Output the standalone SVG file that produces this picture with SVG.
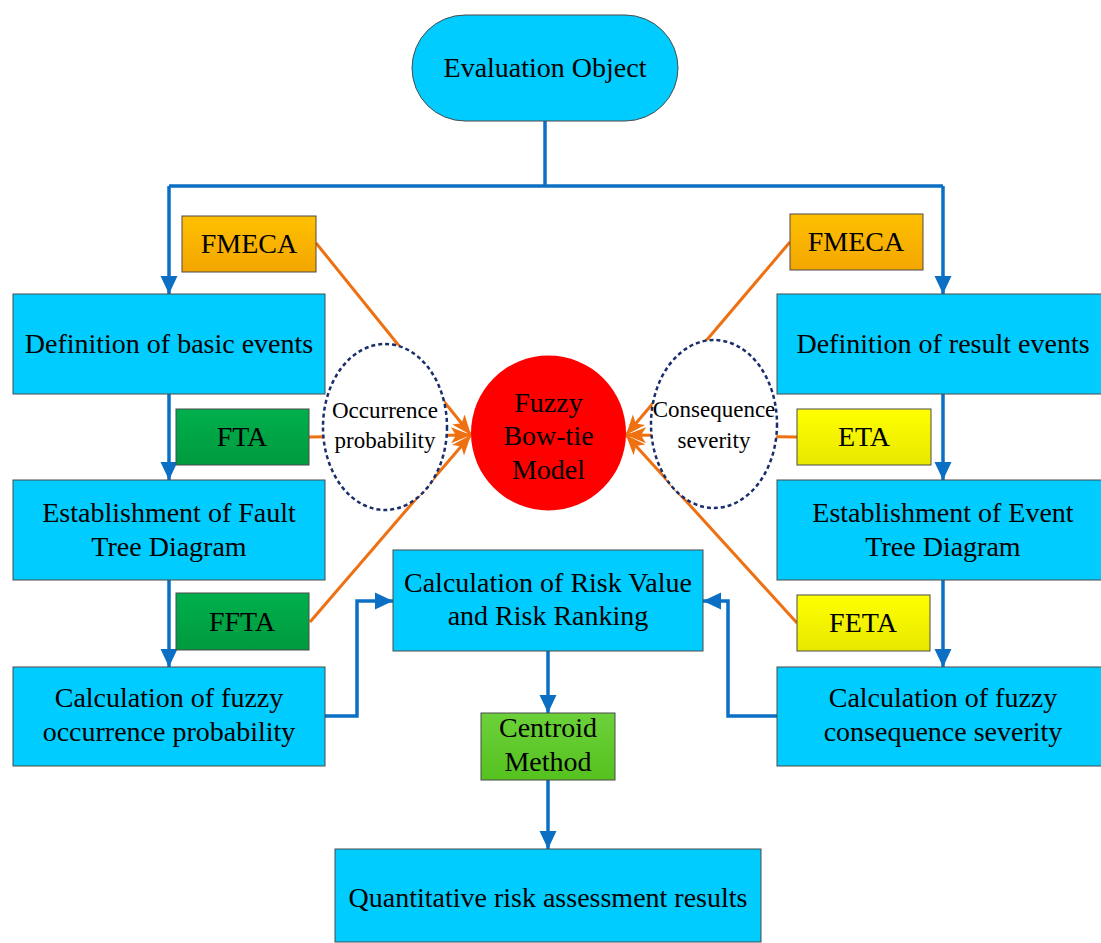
<svg xmlns="http://www.w3.org/2000/svg" width="1101" height="943" viewBox="0 0 1101 943">
  <defs>
    <marker id="arrowBlue" markerUnits="userSpaceOnUse" markerWidth="18" markerHeight="18" viewBox="0 0 18 18" refX="18" refY="9" orient="auto">
      <path d="M0,0.5 L18,9 L0,17.5 Z" fill="#0B6FC4"/>
    </marker>
    <marker id="arrowOrange" markerUnits="userSpaceOnUse" markerWidth="20" markerHeight="18" viewBox="0 0 20 18" refX="20" refY="9" orient="auto">
      <path d="M0,1 L20,9 L0,17 L5,9 Z" fill="#EE7010"/>
    </marker>
    <linearGradient id="gOrange" x1="0" y1="0" x2="0" y2="1">
      <stop offset="0" stop-color="#FFC000"/>
      <stop offset="1" stop-color="#F3A600"/>
    </linearGradient>
    <linearGradient id="gGreen" x1="0" y1="0" x2="0" y2="1">
      <stop offset="0" stop-color="#00B04C"/>
      <stop offset="1" stop-color="#009A3E"/>
    </linearGradient>
    <linearGradient id="gYellow" x1="0" y1="0" x2="0" y2="1">
      <stop offset="0" stop-color="#FFFF00"/>
      <stop offset="1" stop-color="#E8E800"/>
    </linearGradient>
    <linearGradient id="gLime" x1="0" y1="0" x2="0" y2="1">
      <stop offset="0" stop-color="#6CD13A"/>
      <stop offset="1" stop-color="#55C21F"/>
    </linearGradient>
  </defs>
  <style>
    text { font-family: "Liberation Serif", "Times New Roman", serif; fill: #000; text-anchor: middle; }
    .big { font-size: 28px; }
    .small { font-size: 23px; }
    .box { fill: #00CCFF; stroke: #4A4A4A; stroke-width: 1; }
    .flow { fill: none; stroke: #0B6FC4; stroke-width: 3.5; }
    .feed { fill: none; stroke: #EE7010; stroke-width: 3; }
    .tag { stroke: #4A4A4A; stroke-width: 1; }
    .oval { fill: #FFFFFF; stroke: #1A2E6B; stroke-width: 2.5; stroke-dasharray: 4 3; }
  </style>

  <rect width="1101" height="943" fill="#FFFFFF"/>

  <!-- blue flow connectors and orange method feeds -->
  <g id="connectors">
    <path class="flow" d="M545,121 V186"/>
    <path class="flow" d="M169,186 H943"/>
    <path class="flow" d="M169,186 V294" marker-end="url(#arrowBlue)"/>
    <path class="flow" d="M943,186 V294" marker-end="url(#arrowBlue)"/>
    <path class="flow" d="M169,394 V480" marker-end="url(#arrowBlue)"/>
    <path class="flow" d="M943,394 V480" marker-end="url(#arrowBlue)"/>
    <path class="flow" d="M169,580 V667" marker-end="url(#arrowBlue)"/>
    <path class="flow" d="M943,580 V667" marker-end="url(#arrowBlue)"/>
    <path class="flow" d="M325,716 H357 V601 H393" marker-end="url(#arrowBlue)"/>
    <path class="flow" d="M777,716 H728 V601 H703" marker-end="url(#arrowBlue)"/>
    <path class="flow" d="M548,651 V713" marker-end="url(#arrowBlue)"/>
    <path class="flow" d="M548,780 V849" marker-end="url(#arrowBlue)"/>

    <path class="feed" d="M316,243 L471,435" marker-end="url(#arrowOrange)"/>
    <path class="feed" d="M309,437 L471,435" marker-end="url(#arrowOrange)"/>
    <path class="feed" d="M310,622 L471,435" marker-end="url(#arrowOrange)"/>
    <path class="feed" d="M790,242 L626,435" marker-end="url(#arrowOrange)"/>
    <path class="feed" d="M797,437 L626,435" marker-end="url(#arrowOrange)"/>
    <path class="feed" d="M797,623 L626,435" marker-end="url(#arrowOrange)"/>
  </g>

  <g id="evaluation-object">
    <rect x="412" y="15" width="266" height="106" rx="53" ry="53" class="box"/>
    <text class="big" x="545" y="77">Evaluation Object</text>
  </g>

  <g id="fmeca-left">
    <rect x="182" y="216" width="134" height="56" fill="url(#gOrange)" class="tag"/>
    <text class="big" x="249" y="253">FMECA</text>
  </g>
  <g id="fmeca-right">
    <rect x="790" y="214" width="133" height="56" fill="url(#gOrange)" class="tag"/>
    <text class="big" x="856" y="251">FMECA</text>
  </g>

  <g id="basic-events">
    <rect x="13" y="294" width="312" height="100" class="box"/>
    <text class="big" x="169" y="353">Definition of basic events</text>
  </g>
  <g id="result-events">
    <rect x="777" y="294" width="330" height="100" class="box"/>
    <text class="big" x="943" y="353">Definition of result events</text>
  </g>

  <g id="fta">
    <rect x="176" y="409" width="133" height="56" fill="url(#gGreen)" class="tag"/>
    <text class="big" x="242" y="446">FTA</text>
  </g>
  <g id="eta">
    <rect x="797" y="409" width="134" height="56" fill="url(#gYellow)" class="tag"/>
    <text class="big" x="864" y="446">ETA</text>
  </g>

  <g id="occurrence-probability">
    <ellipse cx="385" cy="427" rx="62" ry="83" class="oval"/>
    <text class="small" x="385" y="418">Occurrence</text>
    <text class="small" x="385" y="448">probability</text>
  </g>
  <g id="consequence-severity">
    <ellipse cx="714" cy="424" rx="63" ry="84" class="oval"/>
    <text class="small" x="714" y="417">Consequence</text>
    <text class="small" x="714" y="448">severity</text>
  </g>

  <g id="bow-tie-model">
    <circle cx="548.5" cy="433" r="77.5" fill="#FF0000"/>
    <text class="big" x="548.5" y="412">Fuzzy</text>
    <text class="big" x="548.5" y="445">Bow-tie</text>
    <text class="big" x="548.5" y="479">Model</text>
  </g>

  <g id="fault-tree">
    <rect x="13" y="480" width="312" height="100" class="box"/>
    <text class="big" x="169" y="522">Establishment of Fault</text>
    <text class="big" x="169" y="556">Tree Diagram</text>
  </g>
  <g id="event-tree">
    <rect x="777" y="480" width="330" height="100" class="box"/>
    <text class="big" x="943" y="522">Establishment of Event</text>
    <text class="big" x="943" y="556">Tree Diagram</text>
  </g>

  <g id="ffta">
    <rect x="176" y="593" width="133" height="57" fill="url(#gGreen)" class="tag"/>
    <text class="big" x="242" y="631">FFTA</text>
  </g>
  <g id="feta">
    <rect x="797" y="595" width="133" height="56" fill="url(#gYellow)" class="tag"/>
    <text class="big" x="863" y="632">FETA</text>
  </g>

  <g id="risk-value">
    <rect x="393" y="550" width="310" height="101" class="box"/>
    <text class="big" x="548" y="592">Calculation of Risk Value</text>
    <text class="big" x="548" y="625">and Risk Ranking</text>
  </g>

  <g id="fuzzy-occurrence">
    <rect x="13" y="667" width="312" height="99" class="box"/>
    <text class="big" x="169" y="707">Calculation of fuzzy</text>
    <text class="big" x="169" y="741">occurrence probability</text>
  </g>
  <g id="fuzzy-consequence">
    <rect x="777" y="667" width="330" height="99" class="box"/>
    <text class="big" x="943" y="707">Calculation of fuzzy</text>
    <text class="big" x="943" y="741">consequence severity</text>
  </g>

  <g id="centroid-method">
    <rect x="481" y="713" width="134" height="67" fill="url(#gLime)" class="tag"/>
    <text class="big" x="548" y="737">Centroid</text>
    <text class="big" x="548" y="771">Method</text>
  </g>

  <g id="assessment-results">
    <rect x="335" y="849" width="426" height="93" class="box"/>
    <text class="big" x="548" y="907">Quantitative risk assessment results</text>
  </g>
</svg>
